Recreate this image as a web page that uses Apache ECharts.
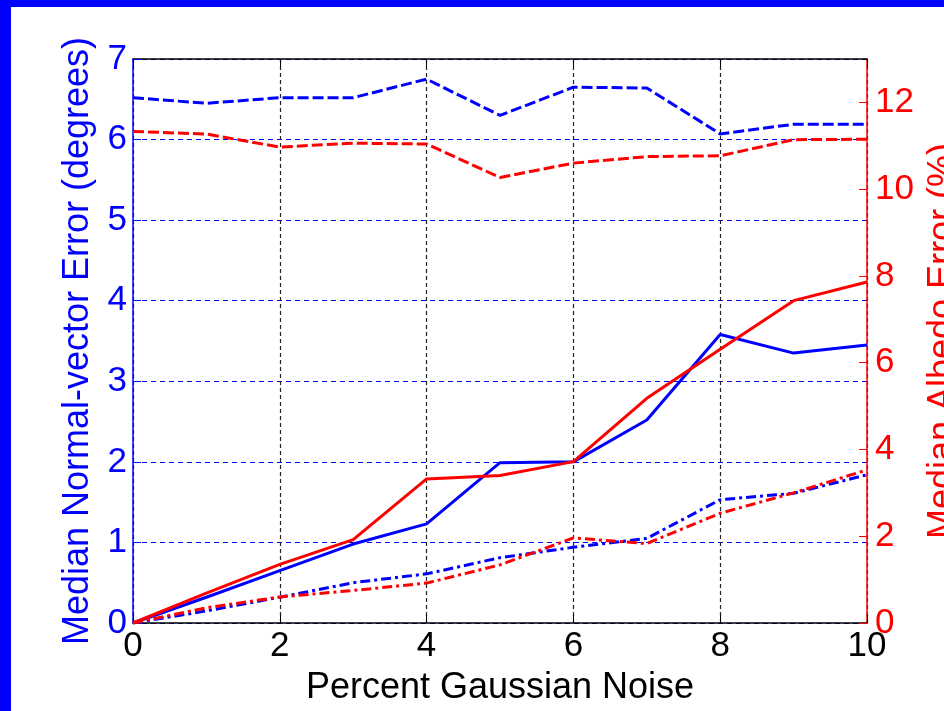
<!DOCTYPE html>
<html>
<head>
<meta charset="utf-8">
<script src="https://cdn.jsdelivr.net/npm/echarts@6/dist/echarts.min.js"></script>
<style>
  html, body { margin: 0; padding: 0; background: #fff; }
  #chart { width: 944px; height: 711px; }
</style>
</head>
<body>
<div id="chart"></div>
<script>
// noise levels (x axis)
const noise = [0, 1, 2, 3, 4, 5, 6, 7, 8, 9, 10]

// normal-vector error, degrees (left axis, blue)
const normalDashed = [6.52, 6.45, 6.52, 6.52, 6.75, 6.30, 6.65, 6.64, 6.07, 6.19, 6.19]
const normalSolid = [0, 0.32, 0.65, 0.98, 1.23, 1.99, 2.0, 2.52, 3.58, 3.35, 3.45]
const normalDashDot = [0, 0.15, 0.32, 0.50, 0.61, 0.81, 0.94, 1.05, 1.53, 1.61, 1.84]

// albedo error, % (right axis, red)
const albedoDashed = [11.33, 11.27, 10.97, 11.06, 11.04, 10.27, 10.6, 10.75, 10.77, 11.14, 11.15]
const albedoSolid = [0, 0.69, 1.35, 1.92, 3.32, 3.40, 3.72, 5.18, 6.31, 7.43, 7.86]
const albedoDashDot = [0, 0.35, 0.6, 0.75, 0.92, 1.34, 1.96, 1.83, 2.53, 3.0, 3.53]

// tick labels
const xTicks = [0, 2, 4, 6, 8, 10]
const leftTicks = [0, 1, 2, 3, 4, 5, 6, 7]
const rightTicks = [0, 2, 4, 6, 8, 10, 12]

const BLUE = '#0000ff'
const RED = '#ff0000'
const FONT = 'Liberation Sans, Arial, sans-serif'

const pairs = arr => noise.map((x, i) => [x, arr[i]])

const line = (name, data, color, type, yIndex) => ({
  name: name,
  type: 'line',
  yAxisIndex: yIndex,
  data: pairs(data),
  symbol: 'none',
  animation: false,
  lineStyle: { color: color, width: 3, type: type }
})

const chart = echarts.init(document.getElementById('chart'))

const options = {
  backgroundColor: '#fff',
  textStyle: { fontFamily: FONT },
  // 不让v6自动收缩绘图区（右侧标题本来就被裁掉一半）
  grid: { left: 133, right: 77, top: 59, bottom: 88, outerBoundsMode: 'none', containLabel: false },
  graphic: [
    // blue frame at the left / top of the picture
    { type: 'rect', left: 0, top: 0, z: 100, shape: { width: 11, height: 711 }, style: { fill: BLUE } },
    { type: 'rect', left: 0, top: 0, z: 100, shape: { width: 944, height: 7 }, style: { fill: BLUE } }
  ],
  xAxis: [
    {
      type: 'value',
      position: 'bottom',
      min: 0, max: 10, interval: 2,
      name: 'Percent Gaussian Noise',
      nameLocation: 'middle',
      nameGap: 47,
      nameTextStyle: { color: '#000', fontSize: 36, fontFamily: FONT },
      axisLine: { show: true, onZero: false, lineStyle: { color: '#000', width: 1.5 } },
      axisTick: { show: true, inside: true, length: 8, lineStyle: { color: '#000' } },
      axisLabel: { color: '#000', fontSize: 35, margin: 6, customValues: xTicks },
      splitLine: { show: true, lineStyle: { color: '#222', type: [4, 3], width: 1.2 } }
    },
    {
      type: 'value',
      position: 'top',
      min: 0, max: 10, interval: 2,
      axisLine: { show: true, onZero: false, lineStyle: { color: '#000', width: 1.5 } },
      axisTick: { show: true, inside: true, length: 8, lineStyle: { color: '#000' } },
      axisLabel: { show: false },
      splitLine: { show: false }
    }
  ],
  yAxis: [
    {
      type: 'value',
      position: 'left',
      min: 0, max: 7, interval: 1,
      name: 'Median Normal-vector Error (degrees)',
      nameLocation: 'middle',
      nameGap: 37,
      nameTextStyle: { color: BLUE, fontSize: 36, fontFamily: FONT },
      axisLine: { show: true, onZero: false, lineStyle: { color: BLUE, width: 1.5 } },
      axisTick: { show: true, inside: true, length: 8, lineStyle: { color: BLUE } },
      axisLabel: { color: BLUE, fontSize: 35, margin: 6, customValues: leftTicks },
      splitLine: { show: true, lineStyle: { color: BLUE, type: [5, 4], width: 1.2 } }
    },
    {
      type: 'value',
      position: 'right',
      min: 0, max: 13, interval: 2,
      name: 'Median Albedo Error (%)',
      nameLocation: 'middle',
      nameGap: 58,
      nameTextStyle: { color: RED, fontSize: 36, fontFamily: FONT },
      axisLine: { show: true, onZero: false, lineStyle: { color: RED, width: 1.5 } },
      axisTick: { show: true, inside: true, length: 8, lineStyle: { color: RED }, customValues: rightTicks },
      axisLabel: { color: RED, fontSize: 35, margin: 8, customValues: rightTicks },
      splitLine: { show: false }
    }
  ],
  series: [
    line('normal dashed', normalDashed, BLUE, [11, 4], 0),
    line('normal solid', normalSolid, BLUE, 'solid', 0),
    line('normal dash-dot', normalDashDot, BLUE, [10, 4, 3, 4], 0),
    line('albedo dashed', albedoDashed, RED, [11, 4], 1),
    line('albedo solid', albedoSolid, RED, 'solid', 1),
    line('albedo dash-dot', albedoDashDot, RED, [10, 4, 3, 4], 1)
  ]
}

chart.setOption(options)
</script>
</body>
</html>
